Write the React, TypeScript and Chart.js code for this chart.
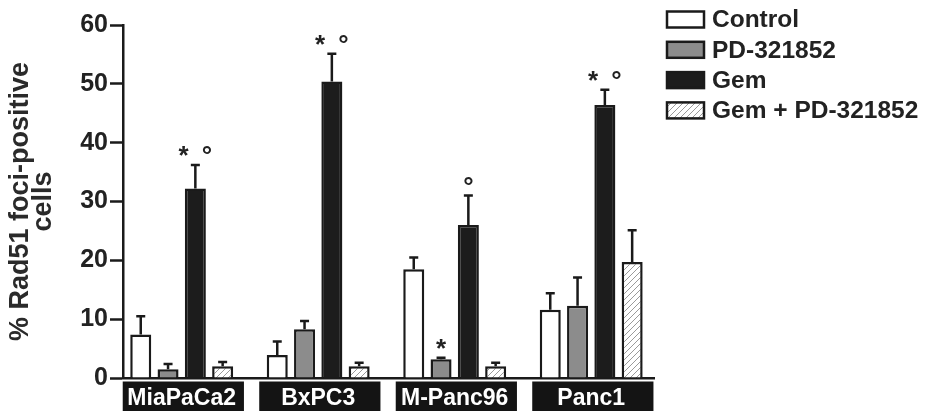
import React, { useEffect, useRef } from 'react';
import { Chart, registerables } from 'chart.js';

Chart.register(...registerables);

const FONT = "'Liberation Sans', Arial, Helvetica, sans-serif";

const categories = ['MiaPaCa2', 'BxPC3', 'M-Panc96', 'Panc1'];
const seriesNames = ['Control', 'PD-321852', 'Gem', 'Gem + PD-321852'];

const controlValues = [7.4, 3.9, 18.5, 11.6];
const controlErrors = [3.1, 2.3, 2.0, 2.8];
const pdValues = [1.5, 8.3, 3.2, 12.3];
const pdErrors = [0.9, 1.4, 0.25, 4.8];
const gemValues = [32.2, 50.4, 26.0, 46.4];
const gemErrors = [4.0, 4.7, 5.0, 2.6];
const comboValues = [2.0, 2.0, 2.0, 19.7];
const comboErrors = [0.7, 0.6, 0.6, 5.4];

const pdMarks = ['', '', '*', ''];
const gemMarks = ['*\u2002°', '*\u2002°', '°', '*\u2002°'];

const yTitle = ['% Rad51 foci-positive', 'cells'];

const INK = '#1a1a1a';

function makeHatch(): CanvasPattern | string {
  const c = document.createElement('canvas');
  c.width = 6;
  c.height = 6;
  const g = c.getContext('2d');
  if (!g) return '#ffffff';
  g.fillStyle = '#ffffff';
  g.fillRect(0, 0, 6, 6);
  g.strokeStyle = '#9a9a9a';
  g.lineWidth = 1;
  g.beginPath();
  g.moveTo(0, 6);
  g.lineTo(6, 0);
  g.moveTo(-1, 1);
  g.lineTo(1, -1);
  g.moveTo(5, 7);
  g.lineTo(7, 5);
  g.stroke();
  return g.createPattern(c, 'repeat') || '#ffffff';
}

const toXY = (vals: number[]) => vals.map((v, i) => ({ x: i, y: v }));

const labelBoxes = {
  id: 'labelBoxes',
  beforeDraw(chart: any) {
    const xs = chart.scales.x;
    const ctx = chart.ctx;
    const step = xs.getPixelForValue(1) - xs.getPixelForValue(0);
    const top = chart.chartArea.bottom + 3.5;
    ctx.save();
    ctx.fillStyle = '#141414';
    categories.forEach((_, i) => {
      const cx = xs.getPixelForValue(i) + step * 0.012;
      const w = step * 0.888;
      ctx.fillRect(cx - w / 2, top, w, chart.height - top);
    });
    ctx.restore();
  },
};

const errorBars = {
  id: 'errorBars',
  afterDatasetsDraw(chart: any) {
    const ctx = chart.ctx;
    const ys = chart.scales.y;
    ctx.save();
    ctx.strokeStyle = INK;
    ctx.lineWidth = 2.5;
    chart.data.datasets.forEach((ds: any, di: number) => {
      const meta = chart.getDatasetMeta(di);
      meta.data.forEach((el: any, i: number) => {
        const v = ds.data[i].y;
        const e = ds.errors[i];
        const yTop = ys.getPixelForValue(v + e);
        ctx.beginPath();
        ctx.moveTo(el.x, el.y);
        ctx.lineTo(el.x, yTop);
        ctx.moveTo(el.x - 4.5, yTop);
        ctx.lineTo(el.x + 4.5, yTop);
        ctx.stroke();
        const mark = ds.marks ? ds.marks[i] : '';
        if (mark) {
          ctx.fillStyle = '#222';
          ctx.font = `bold 26px ${FONT}`;
          ctx.textAlign = 'center';
          ctx.textBaseline = 'alphabetic';
          ctx.fillText(mark, el.x, yTop - 1);
        }
      });
    });
    ctx.restore();
  },
};

const customLegend = {
  id: 'customLegend',
  afterDraw(chart: any) {
    const ctx = chart.ctx;
    ctx.save();
    chart.data.datasets.forEach((ds: any, i: number) => {
      const cy = 19.5 + i * 30.3;
      const bx = 667;
      const bw = 37;
      const bh = 16;
      ctx.fillStyle = ds.backgroundColor;
      ctx.fillRect(bx, cy - bh / 2, bw, bh);
      ctx.strokeStyle = INK;
      ctx.lineWidth = 2.5;
      ctx.strokeRect(bx, cy - bh / 2, bw, bh);
      ctx.fillStyle = '#222';
      ctx.font = `bold 24.5px ${FONT}`;
      ctx.textAlign = 'left';
      ctx.textBaseline = 'middle';
      ctx.fillText(ds.label, 712, cy + 1);
    });
    ctx.restore();
  },
};

export default function App() {
  const ref = useRef<HTMLCanvasElement | null>(null);

  useEffect(() => {
    if (!ref.current) return;
    const hatch = makeHatch();
    const common = { borderColor: INK, borderWidth: 2.5, barPercentage: 0.77, categoryPercentage: 0.8 };
    const chart = new Chart(ref.current, {
      type: 'bar',
      data: {
        datasets: [
          { ...common, label: seriesNames[0], data: toXY(controlValues), errors: controlErrors, backgroundColor: '#ffffff' } as any,
          { ...common, label: seriesNames[1], data: toXY(pdValues), errors: pdErrors, marks: pdMarks, backgroundColor: '#8c8c8c' } as any,
          { ...common, label: seriesNames[2], data: toXY(gemValues), errors: gemErrors, marks: gemMarks, backgroundColor: '#1c1c1c' } as any,
          { ...common, label: seriesNames[3], data: toXY(comboValues), errors: comboErrors, backgroundColor: hatch } as any,
        ],
      },
      options: {
        responsive: false,
        animation: false,
        events: [],
        layout: { padding: { top: 25, right: 272, left: 0, bottom: 0 } },
        plugins: { legend: { display: false }, tooltip: { enabled: false } },
        scales: {
          x: {
            type: 'linear',
            offset: false,
            min: -0.43,
            max: 3.46,
            afterBuildTicks: (s: any) => {
              s.ticks = categories.map((_, i) => ({ value: i }));
            },
            afterFit: (s: any) => {
              s.height = 33;
            },
            border: { display: true, color: INK, width: 2.5 },
            grid: { offset: false, drawOnChartArea: false, drawTicks: false },
            ticks: {
              autoSkip: false,
              maxRotation: 0,
              padding: 7,
              color: '#ffffff',
              font: { family: FONT, size: 23, weight: 'bold' },
              callback: (v: any) => categories[v] ?? '',
            },
          },
          y: {
            min: 0,
            max: 60,
            ticks: {
              stepSize: 10,
              padding: 2,
              color: '#222',
              font: { family: FONT, size: 25, weight: 'bold' },
            },
            afterFit: (s: any) => {
              s.width = 123;
            },
            border: { display: true, color: INK, width: 2.5 },
            grid: { drawOnChartArea: false, drawTicks: true, tickLength: 13, tickWidth: 2.5, tickColor: INK },
            title: {
              display: true,
              text: yTitle,
              color: '#2a2a2a',
              font: { family: FONT, size: 27, weight: 'bold', lineHeight: 0.85 },
              padding: { top: 9, bottom: 0 },
            },
          },
        },
      } as any,
      plugins: [labelBoxes, errorBars, customLegend],
    });
    return () => chart.destroy();
  }, []);

  return (
    <div style={{ position: 'fixed', left: 0, top: 0, width: 926, height: 411, background: '#fff' }}>
      <canvas ref={ref} width={926} height={411} />
    </div>
  );
}
